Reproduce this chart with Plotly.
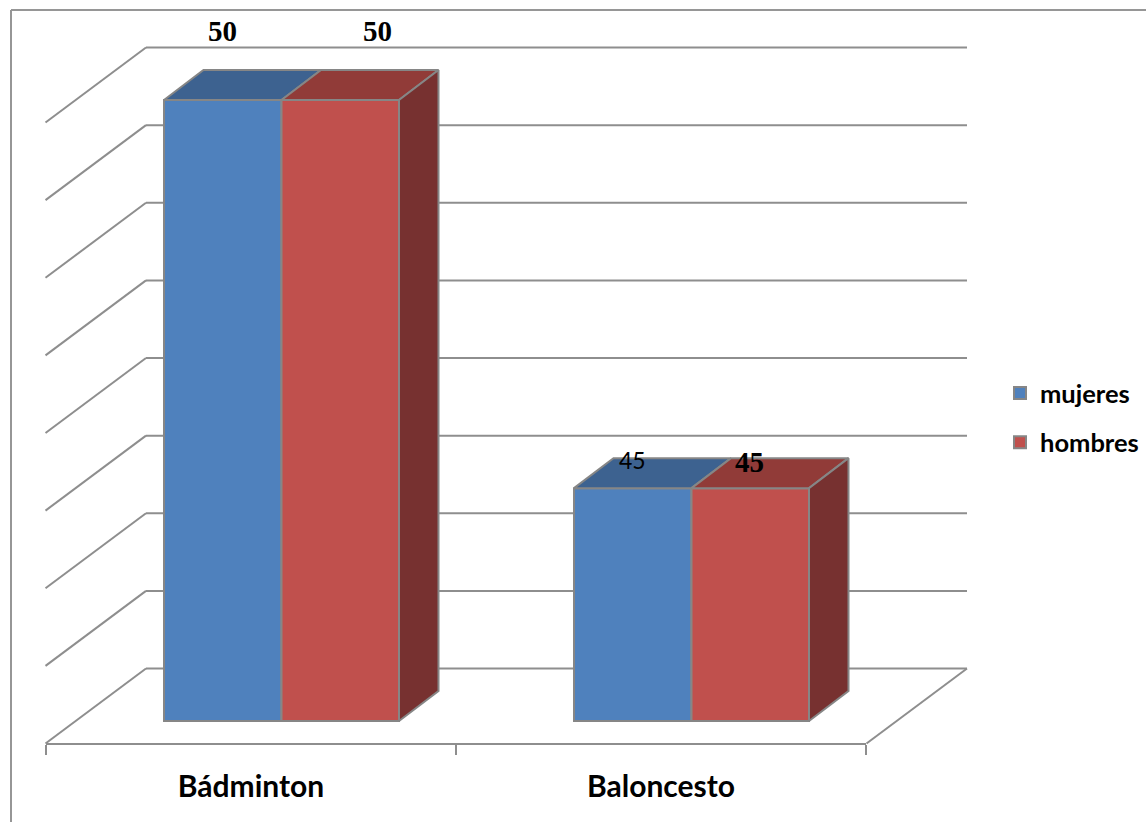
import plotly.graph_objects as go

categories = ["Bádminton", "Baloncesto"]
series_names = ["mujeres", "hombres"]
mujeres = [50, 43.75]
hombres = [50, 43.75]
mujeres_labels = ["50", "45"]
hombres_labels = ["50", "45"]
grid_values = [40, 41.25, 42.5, 43.75, 45, 46.25, 47.5, 48.75, 50]

W, H = 1146, 822
PX_X = 410.0          # pixels per category
PX_Y = 62.1           # pixels per value unit
X0_PX, Y40_PX = 281.5, 721.0
BAR_W = 117.5 / PX_X
BASE = 40

BLUE, RED = "#4f81bd", "#c0504d"
TOP_BLUE, TOP_RED, SIDE_RED = "#3d6290", "#913b38", "#773130"
EDGE = "#868686"
GRID = "#8e8e8e"

dx = lambda p: p / PX_X
dy = lambda p: p / PX_Y
DEPTH_X, DEPTH_Y = dx(39.5), dy(30)

xr = [(0 - X0_PX) / PX_X, (W - X0_PX) / PX_X]
yr = [BASE - (H - Y40_PX) / PX_Y, BASE + Y40_PX / PX_Y]
xs = list(range(len(categories)))

fig = go.Figure()

# front faces
fig.add_trace(go.Bar(x=xs, y=[v - BASE for v in mujeres], base=BASE, name=series_names[0],
                     marker=dict(color=BLUE, line=dict(color=EDGE, width=2)),
                     legendgroup="a", hoverinfo="skip"))
fig.add_trace(go.Bar(x=xs, y=[v - BASE for v in hombres], base=BASE, name=series_names[1],
                     marker=dict(color=RED, line=dict(color=EDGE, width=2)),
                     legendgroup="b", hoverinfo="skip"))


def poly(px, py, color):
    fig.add_trace(go.Scatter(x=px + px[:1], y=py + py[:1], mode="lines", fill="toself",
                             fillcolor=color, line=dict(color=EDGE, width=2),
                             showlegend=False, hoverinfo="skip"))


# top and side faces
for i, xc in enumerate(xs):
    l, m, r = xc - BAR_W, xc, xc + BAR_W
    tm, th = mujeres[i], hombres[i]
    poly([l, m, m + DEPTH_X, l + DEPTH_X], [tm, tm, tm + DEPTH_Y, tm + DEPTH_Y], TOP_BLUE)
    poly([m, r, r + DEPTH_X, m + DEPTH_X], [th, th, th + DEPTH_Y, th + DEPTH_Y], TOP_RED)
    poly([r, r + DEPTH_X, r + DEPTH_X, r], [BASE, BASE + DEPTH_Y, th + DEPTH_Y, th], SIDE_RED)

# category axis drawn on the floor's front edge
fig.add_trace(go.Scatter(x=[0, 2], y=[None, None], xaxis="x2", yaxis="y", mode="lines",
                         showlegend=False, hoverinfo="skip"))

# wall grid + diagonal side-wall lines
WALL_L, WALL_R = (146 - X0_PX) / PX_X, (967 - X0_PX) / PX_X
WALL_UP = dy(Y40_PX - 668.5)
FRONT_DX, FRONT_DY = dx(-100.5), dy(-75)
shapes = []
gl = dict(color=GRID, width=2)
for v in grid_values:
    y = v + WALL_UP
    shapes.append(dict(type="line", xref="x", yref="y", x0=WALL_L, x1=WALL_R, y0=y, y1=y,
                       line=gl, layer="below"))
    shapes.append(dict(type="line", xref="x", yref="y", x0=WALL_L, x1=WALL_L + FRONT_DX,
                       y0=y, y1=y + FRONT_DY, line=gl, layer="below"))
y = grid_values[0] + WALL_UP
shapes.append(dict(type="line", xref="x", yref="y", x0=WALL_R, x1=WALL_R + FRONT_DX,
                   y0=y, y1=y + FRONT_DY, line=gl, layer="below"))
# outer frame (top and left edges only reach the window)
shapes.append(dict(type="line", xref="paper", yref="paper", x0=11 / W, x1=1, y0=1 - 10 / H, y1=1 - 10 / H,
                   line=dict(color="#969696", width=2), layer="below"))
shapes.append(dict(type="line", xref="paper", yref="paper", x0=11 / W, x1=11 / W, y0=0, y1=1 - 10 / H,
                   line=dict(color="#969696", width=2), layer="below"))

SERIF = dict(family="Liberation Serif", size=29, color="#000000", weight=700)
annots = []
label_style = [
    [(0, 69, SERIF), (37, 69, SERIF)],
    [(0, 28, dict(family="Lato", size=23, color="#000000")), (-1, 26, SERIF)],
]
for i, xc in enumerate(xs):
    for j, (vals, labs, off) in enumerate([(mujeres, mujeres_labels, -BAR_W / 2),
                                           (hombres, hombres_labels, BAR_W / 2)]):
        xs_, ys_, f = label_style[i][j]
        annots.append(dict(x=xc + off, y=vals[i], text=labs[i], showarrow=False, xshift=xs_, yshift=ys_,
                           font=f, xanchor="center", yanchor="middle", xref="x", yref="y"))

fig.update_layout(
    width=W, height=H, margin=dict(l=0, r=0, t=0, b=0),
    paper_bgcolor="white", plot_bgcolor="rgba(0,0,0,0)",
    barmode="group", bargap=1 - 2 * BAR_W, bargroupgap=0,
    xaxis=dict(range=xr, visible=False, fixedrange=True),
    yaxis=dict(range=yr, visible=False, fixedrange=True),
    xaxis2=dict(domain=[46 / W, 866 / W], range=[0, 2], anchor="free", position=(H - 743.5) / H,
                side="bottom", showgrid=False, zeroline=False,
                showline=True, linecolor=GRID, linewidth=2,
                tickmode="array", tickvals=[0.5, 1.5], ticktext=categories, ticks="", ticklen=0,
                ticklabelstandoff=16,
                tickfont=dict(family="Lato", size=30, color="#000000", weight=700),
                minor=dict(tickmode="array", tickvals=[0, 1, 2], ticks="outside", ticklen=10,
                           tickwidth=2, tickcolor=GRID, showgrid=False),
                fixedrange=True),
    legend=dict(x=1000 / W, y=1 - 370 / H, xanchor="left", yanchor="top", tracegroupgap=13,
                traceorder="grouped", itemwidth=30, bgcolor="rgba(0,0,0,0)",
                font=dict(family="Lato", size=25.5, color="#000000", weight=700)),
    shapes=shapes, annotations=annots, showlegend=True,
)

fig.write_html("out.html", post_script="document.body.style.margin='0';",
               config={"displayModeBar": False})
